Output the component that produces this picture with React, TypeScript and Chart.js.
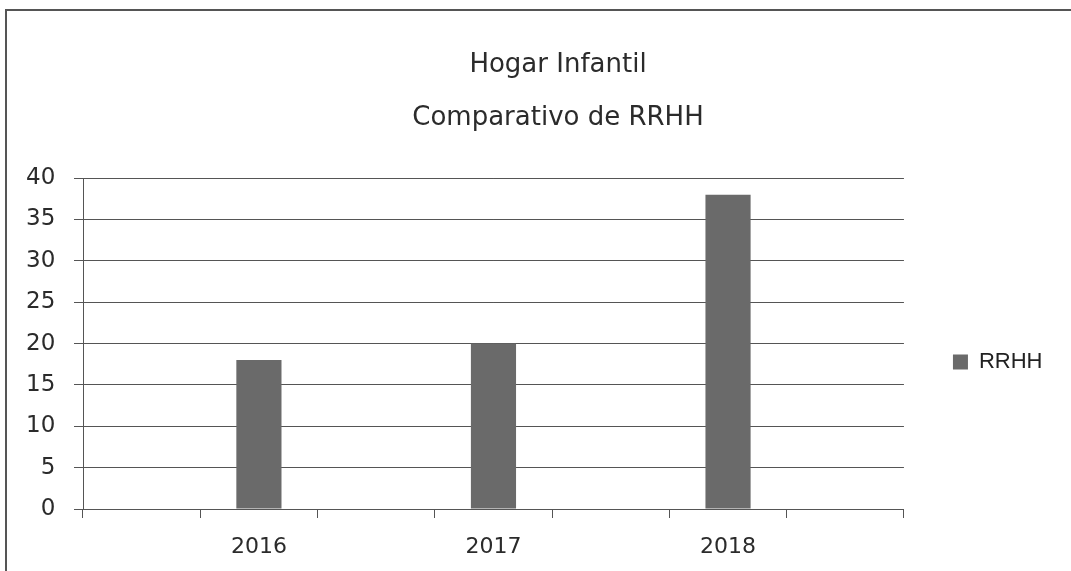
import React, { useEffect, useRef } from "react";
import { Chart, registerables } from "chart.js";

Chart.register(...registerables);

const categories = ["", "2016", "", "2017", "", "2018", ""];
const rrhhValues = [null, 18, null, 20, null, 38, null];
const seriesLabel = "RRHH";
const titleLines = ["Hogar Infantil", "Comparativo de RRHH"];
const yMin = 0;
const yMax = 40;
const yStep = 5;

export default function App() {
  const canvasRef = useRef<HTMLCanvasElement | null>(null);

  useEffect(() => {
    const ctx = canvasRef.current;
    if (!ctx) return;
    const gridColor = "#555555";
    const textColor = "#2b2b2b";
    const chart = new Chart(ctx, {
      type: "bar",
      data: {
        labels: categories,
        datasets: [
          {
            label: seriesLabel,
            data: rrhhValues,
            backgroundColor: "#6a6a6a",
            borderWidth: 0,
            barPercentage: 0.385,
            categoryPercentage: 1,
          },
        ],
      },
      options: {
        responsive: false,
        animation: false,
        layout: { padding: { top: 153, bottom: 0, left: 63.5, right: 18.5 } },
        plugins: {
          title: {
            display: true,
            text: titleLines,
            color: textColor,
            font: { family: "DejaVu Sans", size: 26, weight: "normal", lineHeight: 2.04 },
            padding: { top: -114.5, bottom: 33.5 },
          },
          legend: {
            display: true,
            position: "right",
            labels: {
              boxWidth: 15,
              boxHeight: 15,
              padding: 49,
              color: "#222222",
              font: { family: "Liberation Sans", size: 22 },
            },
          },
          tooltip: { enabled: false },
        },
        scales: {
          x: {
            offset: true,
            afterFit: (scale: any) => {
              scale.height = 62;
            },
            grid: {
              offset: true,
              drawOnChartArea: false,
              drawTicks: true,
              tickLength: 9,
              color: gridColor,
            },
            border: { display: true, color: gridColor, width: 1 },
            ticks: {
              autoSkip: false,
              maxRotation: 0,
              padding: 16,
              color: textColor,
              font: { family: "DejaVu Sans", size: 22 },
            },
          },
          y: {
            min: yMin,
            max: yMax,
            afterFit: (scale: any) => {
              scale.width = 19.5;
            },
            grid: {
              drawOnChartArea: true,
              drawTicks: true,
              tickLength: 9,
              color: gridColor,
            },
            border: { display: true, color: gridColor, width: 1 },
            ticks: {
              stepSize: yStep,
              mirror: true,
              crossAlign: "far",
              padding: -57,
              color: textColor,
              font: { family: "DejaVu Sans", size: 23 },
            },
          },
        },
      },
    });
    return () => chart.destroy();
  }, []);

  return (
    <div>
      <canvas
        ref={canvasRef}
        width={1071}
        height={571}
        style={{ position: "fixed", left: 0, top: 0, width: 1071, height: 571, display: "block" }}
      />
      <div
        style={{
          position: "fixed",
          left: 5,
          top: 9,
          width: 1066,
          height: 562,
          borderLeft: "2px solid #555",
          borderTop: "2px solid #555",
          boxSizing: "border-box",
          pointerEvents: "none",
        }}
      />
    </div>
  );
}
